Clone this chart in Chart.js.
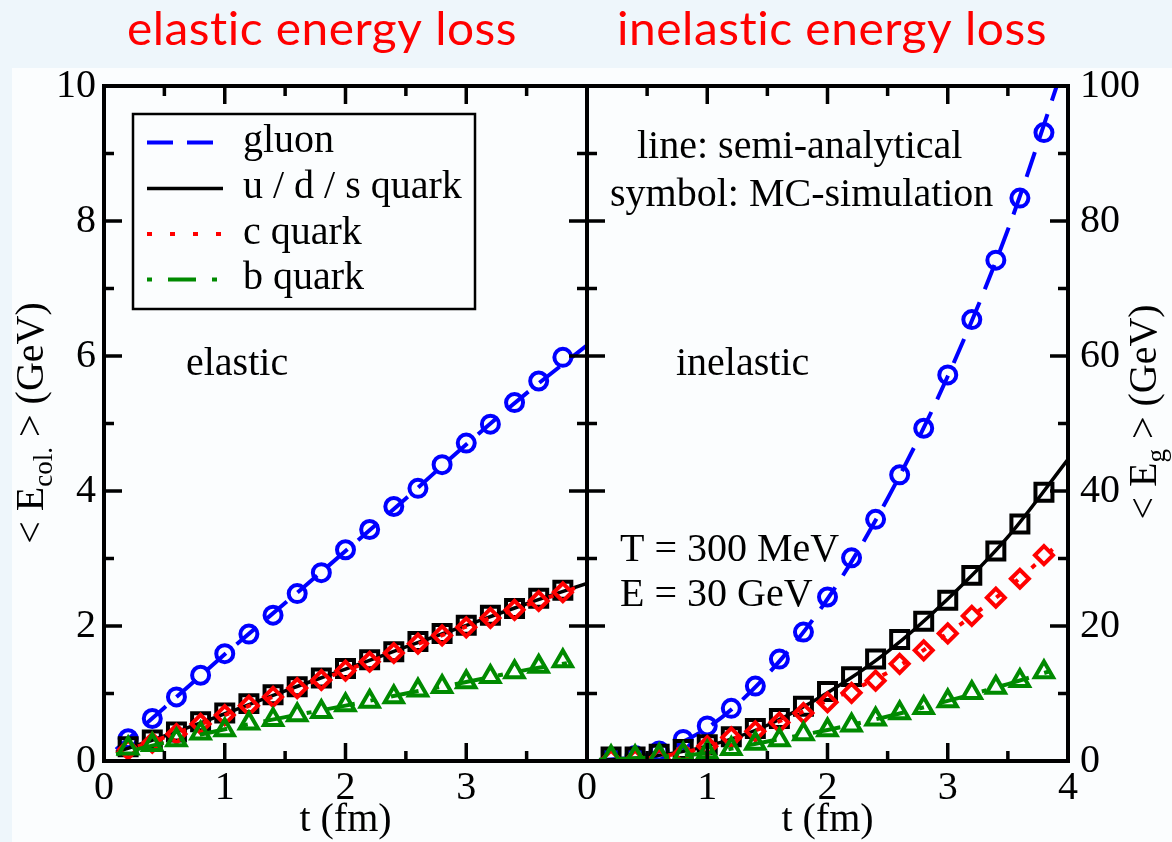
<!DOCTYPE html>
<html>
<head>
<meta charset="utf-8">
<script src="https://cdn.jsdelivr.net/npm/chart.js@4.4.1/dist/chart.umd.min.js"></script>
<style>
  html, body { margin: 0; padding: 0; background: #eef6fb; }
  #page { position: relative; width: 1172px; height: 842px; overflow: hidden; background: #eef6fb; }
  #sheet { position: absolute; left: 12px; top: 68px; right: 0; bottom: 0; background: #fbfdfe; }
  canvas { position: absolute; left: 0; top: 0; }
</style>
</head>
<body>
<div id="page">
  <div id="sheet"></div>
  <canvas id="elasticChart" width="1172" height="842"></canvas>
  <canvas id="inelasticChart" width="1172" height="842"></canvas>
</div>
<script>
// ---- data: time grid of the MC simulation (fm) ----
const tMC = [0.2, 0.4, 0.6, 0.8, 1.0, 1.2, 1.4, 1.6, 1.8, 2.0, 2.2, 2.4, 2.6, 2.8, 3.0, 3.2, 3.4, 3.6, 3.8];

// elastic <E_col.> (GeV), MC symbols
const elGluonMC = [0.33, 0.63, 0.95, 1.27, 1.59, 1.88, 2.16, 2.48, 2.79, 3.13, 3.43, 3.77, 4.04, 4.39, 4.71, 4.99, 5.31, 5.63, 5.98];
const elUdsMC   = [0.21, 0.31, 0.43, 0.58, 0.71, 0.85, 0.98, 1.10, 1.23, 1.37, 1.50, 1.62, 1.77, 1.89, 2.01, 2.16, 2.26, 2.41, 2.53];
const elCMC     = [0.17, 0.27, 0.40, 0.55, 0.68, 0.82, 0.95, 1.08, 1.20, 1.34, 1.47, 1.60, 1.74, 1.86, 1.98, 2.12, 2.24, 2.37, 2.50];
const elBMC     = [0.19, 0.24, 0.31, 0.41, 0.46, 0.56, 0.61, 0.68, 0.73, 0.83, 0.88, 0.95, 1.05, 1.10, 1.17, 1.25, 1.32, 1.40, 1.48];

// elastic, semi-analytical curves
const tLineFull  = [0.1, 0.5, 1.0, 1.5, 2.0, 2.5, 3.0, 3.5, 4.0];
const tLineShort = [0.1, 0.5, 1.0, 1.5, 2.0, 2.5, 3.0, 3.5, 3.9];
const elGluonLine = [0.17, 0.79, 1.58, 2.34, 3.11, 3.89, 4.69, 5.45, 6.16];
const elUdsLine   = [0.13, 0.37, 0.70, 1.04, 1.36, 1.69, 2.01, 2.33, 2.63];
const elCLine     = [0.11, 0.35, 0.68, 1.02, 1.34, 1.67, 1.99, 2.31, 2.56];
const elBLine     = [0.10, 0.27, 0.47, 0.65, 0.82, 1.00, 1.17, 1.35, 1.47];

// inelastic <E_g> (GeV), MC symbols
const inGluonMC = [0.4, 0.8, 1.5, 3.2, 5.2, 7.8, 11.1, 15.1, 19.1, 24.3, 30.1, 35.8, 42.4, 49.3, 57.2, 65.4, 74.2, 83.4, 93.1];
const inUdsMC   = [0.6, 0.6, 1.0, 1.7, 2.4, 3.6, 4.8, 6.3, 8.1, 10.3, 12.5, 15.1, 18.0, 20.7, 23.8, 27.5, 31.1, 35.1, 39.8];
const inCMC     = [0.2, 0.2, 0.4, 1.1, 2.2, 3.5, 4.4, 5.7, 7.1, 8.7, 10.1, 11.9, 14.4, 16.4, 18.9, 21.5, 24.2, 27.0, 30.5];
const inBMC     = [0.6, 0.6, 0.8, 1.0, 1.3, 1.8, 2.6, 3.1, 4.0, 4.6, 5.3, 6.2, 7.1, 7.9, 8.9, 10.1, 10.9, 11.9, 13.2];

// inelastic, semi-analytical curves
const tLineC = [0.1, 0.5, 1.0, 1.5, 2.0, 2.5, 3.0, 3.5, 3.95];
const tLineB = [0.1, 0.5, 1.0, 1.5, 2.0, 2.5, 3.0, 3.5, 3.85];
const inGluonLine = [0.1, 0.9, 4.9, 12.8, 24.0, 38.9, 57.0, 78.7, 105.0];
const inUdsLine   = [0.1, 0.6, 2.2, 5.3, 10.1, 16.2, 24.0, 33.2, 44.7];
const inCLine     = [0.1, 0.4, 2.1, 5.2, 8.9, 13.1, 18.9, 25.6, 32.6];
const inBLine     = [0.2, 0.5, 1.2, 2.9, 4.6, 6.6, 8.9, 11.4, 13.3];

// axis ranges / ticks
const tRange = [0, 4];
const elasticRange = [0, 10];
const inelasticRange = [0, 100];

const seriesNames = ['gluon', 'u / d / s quark', 'c quark', 'b quark'];

// ---- styling ----
const BLUE = '#0000ff', BLACK = '#000000', RED = '#ff0000', GREEN = '#008a00';
const SERIF = '"Liberation Serif", "Times New Roman", serif';
const styles = [
  { color: BLUE,  dash: [26, 14],         point: 'circle',   r: 8.5 },
  { color: BLACK, dash: [],               point: 'rect',     r: 12 },
  { color: RED,   dash: [5, 18],          point: 'rectRot',  r: 9 },
  { color: GREEN, dash: [5, 16, 28, 16],  point: 'triangle', r: 10.5 }
];

const pts = (ts, ys) => ts.map((t, i) => ({ x: t, y: ys[i] }));

function buildDatasets(lines, mcs) {
  const out = [];
  for (let i = 0; i < 4; i++) {
    const s = styles[i];
    out.push({
      label: seriesNames[i],
      data: pts(lines[i].t, lines[i].y),
      showLine: true,
      borderColor: s.color,
      borderWidth: i === 1 ? 3.5 : 4,
      borderDash: s.dash,
      cubicInterpolationMode: 'monotone',
      pointRadius: 0,
      fill: false,
      order: 20 - 4 * i,
      isCurve: true
    });
    out.push({
      label: seriesNames[i] + ' (MC)',
      data: pts(tMC, mcs[i]),
      showLine: false,
      pointStyle: s.point,
      pointRadius: s.r,
      pointBorderWidth: 4,
      pointBorderColor: s.color,
      pointBackgroundColor: 'rgba(0,0,0,0)',
      borderColor: s.color,
      backgroundColor: 'rgba(0,0,0,0)',
      order: 18 - 4 * i
    });
  }
  return out;
}

// frame, inward tick marks, texts and legend
const panelDecor = {
  id: 'panelDecor',
  afterDraw(chart, args, o) {
    const { ctx, chartArea: a } = chart;
    const xs = chart.scales.x, ys = chart.scales.y;
    ctx.save();

    // tick marks on all four sides
    ctx.strokeStyle = '#000';
    ctx.lineWidth = 3.5;
    const MAJ = 18, MIN = 10;
    const xv = xs.ticks.map(t => t.value);
    const yv = ys.ticks.map(t => t.value);
    const mids = v => v.slice(1).map((val, i) => (val + v[i]) / 2);
    const xMarks = xv.map(v => [v, MAJ]).concat(mids(xv).map(v => [v, MIN]));
    const yMarks = yv.map(v => [v, MAJ]).concat(mids(yv).map(v => [v, MIN]));
    ctx.beginPath();
    xMarks.forEach(([v, len]) => {
      const px = xs.getPixelForValue(v);
      if (px <= a.left + 1 || px >= a.right - 1) return;
      ctx.moveTo(px, a.bottom); ctx.lineTo(px, a.bottom - len);
      ctx.moveTo(px, a.top); ctx.lineTo(px, a.top + len);
    });
    yMarks.forEach(([v, len]) => {
      const py = ys.getPixelForValue(v);
      if (py <= a.top + 1 || py >= a.bottom - 1) return;
      ctx.moveTo(a.left, py); ctx.lineTo(a.left + len, py);
      ctx.moveTo(a.right, py); ctx.lineTo(a.right - len, py);
    });
    ctx.stroke();

    // frame
    ctx.lineWidth = 4;
    ctx.strokeRect(a.left, a.top, a.right - a.left, a.bottom - a.top);

    // panel heading, fitted to its slot width
    const h = o.heading;
    ctx.fillStyle = RED;
    ctx.font = '46px Lato, "Open Sans", sans-serif';
    ctx.letterSpacing = '0.5px';
    ctx.textAlign = 'center';
    ctx.textBaseline = 'alphabetic';
    const hw = ctx.measureText(h.text).width;
    ctx.save();
    ctx.translate(h.x, h.y);
    ctx.scale(h.width / hw, 1);
    ctx.fillText(h.text, 0, 0);
    ctx.restore();
    ctx.letterSpacing = '0px';

    // notes inside the panel
    ctx.fillStyle = '#000';
    ctx.font = '40px ' + SERIF;
    ctx.textAlign = 'left';
    o.notes.forEach(n => ctx.fillText(n.text, n.x, n.y));

    // rotated y-axis title with subscript
    const yt = o.yTitle;
    ctx.save();
    ctx.translate(yt.x, yt.y);
    ctx.rotate(-Math.PI / 2);
    const big = '40px ' + SERIF, small = '27px ' + SERIF;
    ctx.font = big; const w1 = ctx.measureText(yt.pre).width;
    const w3 = ctx.measureText(yt.post).width;
    ctx.font = small; const w2 = ctx.measureText(yt.sub).width;
    let cx = -(w1 + w2 + w3) / 2;
    ctx.font = big; ctx.fillText(yt.pre, cx, 0); cx += w1;
    ctx.font = small; ctx.fillText(yt.sub, cx, 9); cx += w2;
    ctx.font = big; ctx.fillText(yt.post, cx, 0);
    ctx.restore();

    // legend box
    if (o.legend) {
      const L = o.legend;
      ctx.lineWidth = 2.5;
      ctx.strokeStyle = '#000';
      ctx.strokeRect(L.box[0], L.box[1], L.box[2] - L.box[0], L.box[3] - L.box[1]);
      const curves = chart.data.datasets.filter(d => d.isCurve);
      curves.forEach((d, i) => {
        const by = L.baselines[i];
        ctx.save();
        ctx.strokeStyle = d.borderColor;
        ctx.lineWidth = d.borderWidth;
        ctx.setLineDash(d.borderDash);
        ctx.beginPath();
        ctx.moveTo(L.lineX[0], by - 9.5);
        ctx.lineTo(L.lineX[1], by - 9.5);
        ctx.stroke();
        ctx.restore();
        ctx.fillStyle = '#000';
        ctx.font = '40px ' + SERIF;
        ctx.fillText(d.label, L.textX, by);
      });
    }
    ctx.restore();
  }
};

const tickFont = { family: SERIF, size: 40 };

function makeChart(id, cfg) {
  return new Chart(document.getElementById(id), {
    type: 'scatter',
    data: { datasets: cfg.datasets },
    options: {
      responsive: false,
      animation: false,
      events: [],
      layout: { padding: cfg.padding },
      plugins: { legend: { display: false }, tooltip: { enabled: false }, panelDecor: cfg.decor },
      scales: {
        x: {
          type: 'linear', min: tRange[0], max: tRange[1],
          grid: { display: false, drawTicks: false }, border: { display: false },
          ticks: { stepSize: 1, autoSkip: false, maxRotation: 0, padding: 3, color: '#000', font: tickFont,
                   callback: cfg.xLabel },
          title: { display: true, text: 't (fm)', color: '#000', font: { family: SERIF, size: 40, lineHeight: 1.0 }, padding: { top: 0, bottom: 2 } },
          afterFit: s => { s.height = 81; }
        },
        y: {
          type: 'linear', position: cfg.yPos, min: cfg.yRange[0], max: cfg.yRange[1],
          grid: { display: false, drawTicks: false }, border: { display: false },
          ticks: { stepSize: cfg.yStep, autoSkip: false, padding: cfg.yPad, color: '#000', font: tickFont },
          afterFit: s => { s.width = 104; }
        }
      }
    },
    plugins: [panelDecor]
  });
}

makeChart('elasticChart', {
  datasets: buildDatasets(
    [{ t: tLineFull, y: elGluonLine }, { t: tLineFull, y: elUdsLine }, { t: tLineShort, y: elCLine }, { t: tLineShort, y: elBLine }],
    [elGluonMC, elUdsMC, elCMC, elBMC]),
  padding: { left: 0, top: 86, right: 1172 - 587, bottom: 0 },
  yPos: 'left', yRange: elasticRange, yStep: 2, yPad: 8,
  xLabel: v => (v === 4 ? '' : String(v)),
  decor: {
    heading: { text: 'elastic energy loss', x: 322, y: 45, width: 390 },
    notes: [{ text: 'elastic', x: 186, y: 375 }],
    yTitle: { pre: '< E', sub: 'col.', post: ' > (GeV)', x: 43, y: 423 },
    legend: { box: [133, 114, 475, 309], lineX: [147, 223], textX: 243, baselines: [152, 198, 243.5, 289] }
  }
});

makeChart('inelasticChart', {
  datasets: buildDatasets(
    [{ t: tLineFull, y: inGluonLine }, { t: tLineFull, y: inUdsLine }, { t: tLineC, y: inCLine }, { t: tLineB, y: inBLine }],
    [inGluonMC, inUdsMC, inCMC, inBMC]),
  padding: { left: 587, top: 86, right: 0, bottom: 0 },
  yPos: 'right', yRange: inelasticRange, yStep: 20, yPad: 12,
  xLabel: v => String(v),
  decor: {
    heading: { text: 'inelastic energy loss', x: 832, y: 45, width: 430 },
    notes: [
      { text: 'line: semi-analytical', x: 637, y: 158 },
      { text: 'symbol: MC-simulation', x: 610, y: 206 },
      { text: 'inelastic', x: 676, y: 375 },
      { text: 'T = 300 MeV', x: 620, y: 561 },
      { text: 'E = 30 GeV', x: 620, y: 606 }
    ],
    yTitle: { pre: '< E', sub: 'g', post: ' > (GeV)', x: 1156, y: 412 }
  }
});
</script>
</body>
</html>
